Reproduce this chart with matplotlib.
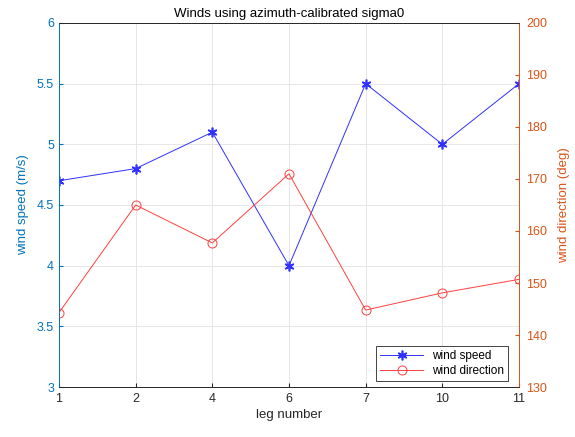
import matplotlib as mpl
import matplotlib.pyplot as plt

mpl.use('Agg')
plt.rcParams['font.family'] = ['Liberation Sans', 'DejaVu Sans']

legs = ['1', '2', '4', '6', '7', '10', '11']
wind_speed = [4.7, 4.8, 5.1, 4.0, 5.5, 5.0, 5.5]
wind_dir = [144.3, 165, 157.7, 171, 144.8, 148.1, 150.7]

blue_ax = '#0072BD'
red_ax = '#D95319'
dark = '#262626'

x = list(range(1, len(legs) + 1))

fig = plt.figure(figsize=(5.75, 4.37), dpi=100)
ax = fig.add_axes([0.1026, 0.1144, 0.8, 0.833])
ax2 = ax.twinx()

# asterisk-like marker, thin lines (MATLAB look)
l1, = ax.plot(x, wind_speed, color='#3030ff', marker=(6, 2, 0), markersize=7,
              markeredgewidth=1.2, linewidth=0.7, label='wind speed')
l2, = ax2.plot(x, wind_dir, color='#ff4040', marker='o', markersize=6.5,
               markerfacecolor='none', linewidth=0.7, markeredgewidth=0.7,
               label='wind direction')

ax.set_xlim(1, 7)
ax.set_ylim(3, 6)
ax2.set_ylim(130, 200)
ax.set_xticks(x)
ax.set_xticklabels(legs)
ax.set_yticks([3, 3.5, 4, 4.5, 5, 5.5, 6])
ax.set_yticklabels(['3', '3.5', '4', '4.5', '5', '5.5', '6'])
ax2.set_yticks(range(130, 201, 10))

ax.grid(True, color='#e6e6e6', linewidth=0.7)
ax.set_axisbelow(True)

ax.tick_params(axis='x', direction='in', colors=dark, labelsize=9, length=3, pad=4)
ax.tick_params(axis='y', direction='in', colors=blue_ax, labelsize=9, length=3)
ax2.tick_params(axis='y', direction='in', colors=red_ax, labelsize=9, length=3, pad=5)

for a in (ax, ax2):
    a.spines['top'].set_color(dark)
    a.spines['bottom'].set_color(dark)
    a.spines['left'].set_color(blue_ax)
    a.spines['right'].set_color(red_ax)
    for s in a.spines.values():
        s.set_linewidth(0.6)

ax.set_xlabel('leg number', fontsize=9.5, color=dark, labelpad=3)
ax.set_ylabel('wind speed (m/s)', fontsize=9.5, color=blue_ax, labelpad=6)
ax2.set_ylabel('wind direction (deg)', fontsize=9.5, color=red_ax, labelpad=8)
ax.set_title('Winds using azimuth-calibrated sigma0', fontsize=9.5, color='black', pad=4)

leg = ax2.legend(handles=[l1, l2], loc='lower right', fontsize=8.5, fancybox=False,
                 framealpha=1, edgecolor=dark, borderaxespad=0.5, handlelength=3.6,
                 borderpad=0.35, labelspacing=0.25, bbox_to_anchor=(0.99, 0.0))
leg.get_frame().set_linewidth(0.6)

fig.savefig('out.png', dpi=100)
